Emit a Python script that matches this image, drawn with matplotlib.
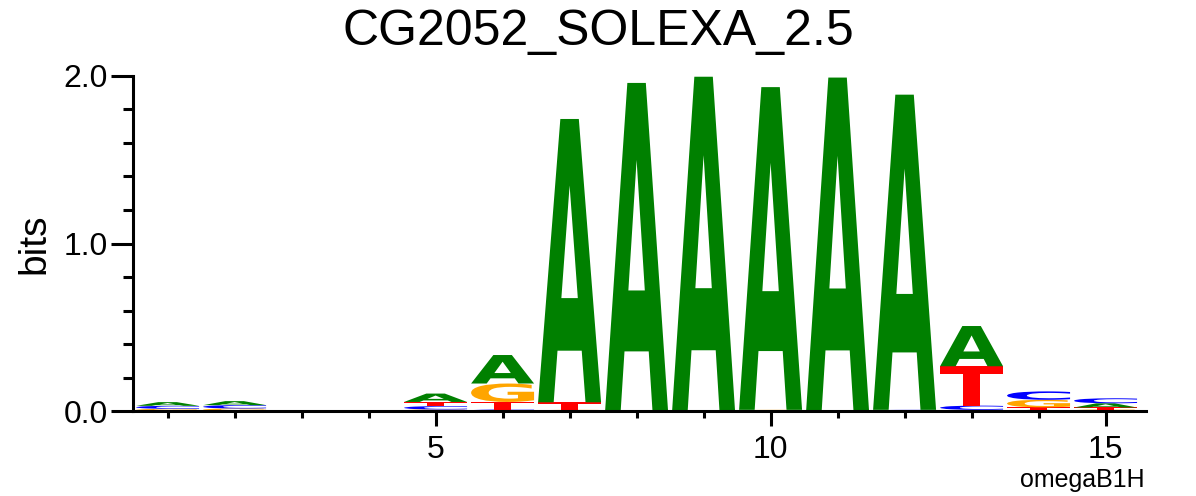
import numpy as np
import matplotlib
matplotlib.use('Agg')
import matplotlib.pyplot as plt
from matplotlib.textpath import TextPath
from matplotlib.patches import PathPatch
from matplotlib.font_manager import FontProperties
from matplotlib.transforms import Affine2D
from matplotlib.ticker import MultipleLocator, FixedLocator

# %% Information content per letter (bits), read off the logo
positions = np.arange(1, 16)
a_bits = [0.022, 0.024, 0, 0, 0.050, 0.170, 1.690, 1.958, 1.995, 1.925, 1.990, 1.880, 0.240, 0.008, 0.025]
c_bits = [0.018, 0.020, 0, 0, 0.020, 0.010, 0.000, 0.000, 0.000, 0.000, 0.000, 0.008, 0.025, 0.050, 0.030]
g_bits = [0.014, 0.016, 0, 0, 0.010, 0.110, 0.008, 0.000, 0.000, 0.008, 0.000, 0.000, 0.008, 0.045, 0.010]
t_bits = [0.000, 0.000, 0, 0, 0.025, 0.045, 0.045, 0.000, 0.000, 0.000, 0.000, 0.000, 0.235, 0.015, 0.012]

title = 'CG2052_SOLEXA_2.5'
footer = 'omegaB1H'
colors = {'A': '#008000', 'C': '#0000ff', 'G': '#ffa500', 'T': '#ff0000'}

fp = FontProperties(family='DejaVu Sans', weight='bold')
glyphs = {}
for letter in 'ACGT':
    p = TextPath((0, 0), letter, size=1, prop=fp)
    glyphs[letter] = (p, p.get_extents())


def draw_letter(ax, letter, xc, y0, w, h):
    p, ext = glyphs[letter]
    tr = (Affine2D().translate(-ext.x0, -ext.y0)
          .scale(w / ext.width, h / ext.height)
          .translate(xc - w / 2, y0))
    ax.add_patch(PathPatch(tr.transform_path(p), fc=colors[letter], ec='none', zorder=1))


fig = plt.figure(figsize=(11.96, 4.96), dpi=100)
ax = fig.add_axes([0.111, 0.171, 0.847, 0.676])

col_w = 0.94
for i, pos in enumerate(positions):
    stack = [('A', a_bits[i]), ('C', c_bits[i]), ('G', g_bits[i]), ('T', t_bits[i])]
    stack = sorted([s for s in stack if s[1] > 0], key=lambda s: s[1])
    y = 0
    for letter, h in stack:
        draw_letter(ax, letter, pos, y, col_w, h)
        y += h

ax.set_xlim(0.48, 15.6)
ax.set_ylim(0, 2.0)
for s in ['top', 'right']:
    ax.spines[s].set_visible(False)
for s in ['left', 'bottom']:
    ax.spines[s].set_linewidth(2.2)

ax.xaxis.set_major_locator(FixedLocator([5, 10, 15]))
ax.xaxis.set_minor_locator(MultipleLocator(1))
ax.yaxis.set_major_locator(FixedLocator([0, 1, 2]))
ax.yaxis.set_minor_locator(MultipleLocator(0.2))
ax.set_yticklabels(['0.0', '1.0', '2.0'])
ax.tick_params(axis='y', which='major', length=16, width=2.2, labelsize=23, pad=2)
ax.tick_params(axis='y', which='minor', length=7, width=2.2)
ax.tick_params(axis='x', which='major', length=11, width=2.2, labelsize=23, pad=6)
ax.tick_params(axis='x', which='minor', length=5, width=2.2)
for lab in ax.get_xticklabels() + ax.get_yticklabels():
    lab.set_family('Liberation Sans')

ax.set_ylabel('bits', fontsize=28, family='Liberation Sans', labelpad=8)
fig.text(0.5, 0.935, title, ha='center', va='center', fontsize=36, family='Liberation Sans')
fig.text(0.957, 0.032, footer, ha='right', va='center', fontsize=18, family='Liberation Sans')

fig.savefig('out.png', dpi=100)
